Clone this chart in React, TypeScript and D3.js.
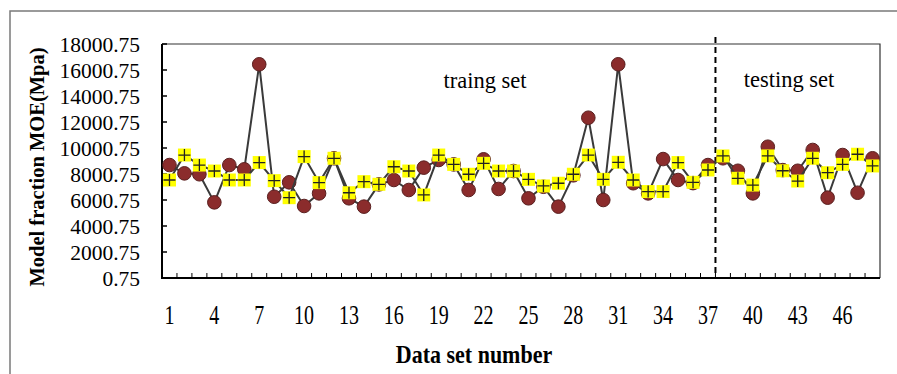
import React, { useEffect, useRef } from "react";
import * as d3 from "d3";

// data set numbers 1..48 (1-37 training, 38-48 testing)
const categories: number[] = d3.range(1, 49);
const xTickLabels = [1, 4, 7, 10, 13, 16, 19, 22, 25, 28, 31, 34, 37, 40, 43, 46];
const yTickValues = [0.75, 2000.75, 4000.75, 6000.75, 8000.75, 10000.75, 12000.75, 14000.75, 16000.75, 18000.75];

// brown circles
const seriesA = [
  8690, 8050, 7980, 5820, 8690, 8360, 16440, 6250, 7360, 5540,
  6510, 9210, 6130, 5490, 7200, 7540, 6770, 8490, 9080, 8740,
  6770, 9130, 6850, 8230, 6130, 7020, 5490, 7900, 12330, 6000,
  16440, 7290, 6510, 9150, 7540, 7300, 8690, 9210, 8250, 6510,
  10100, 8300, 8250, 9850, 6180, 9460, 6560, 9210,
];
// yellow plus squares
const seriesB = [
  7540, 9460, 8690, 8230, 7540, 7540, 8880, 7490, 6180, 9340,
  7340, 9210, 6560, 7410, 7210, 8560, 8230, 6390, 9460, 8740,
  7980, 8820, 8230, 8230, 7590, 7080, 7290, 7980, 9460, 7590,
  8900, 7540, 6650, 6650, 8880, 7360, 8310, 9390, 7670, 7150,
  9390, 8250, 7460, 9210, 8100, 8740, 9520, 8620,
];
const splitAfter = 37;

export default function App() {
  const svgRef = useRef<SVGSVGElement>(null);

  useEffect(() => {
    const left = 162, right = 880, top = 44, bottom = 278;
    const svg = d3.select(svgRef.current);
    svg.selectAll("*").remove();

    const x = d3.scaleBand<number>().domain(categories).range([left, right]);
    const y = d3.scaleLinear().domain([0.75, 18000.75]).range([bottom, top]);
    const cx = (d: number) => (x(d) as number) + x.bandwidth() / 2;

    // outer frame
    svg.append("rect")
      .attr("x", 10).attr("y", 11).attr("width", 900).attr("height", 400)
      .attr("fill", "none").attr("stroke", "#7a7a7a").attr("stroke-width", 1.5);

    // plot frame (top/right thin)
    svg.append("path")
      .attr("d", `M${left},${top}H${right}V${bottom}`)
      .attr("fill", "none").attr("stroke", "#333").attr("stroke-width", 1.2);

    const font = "'Liberation Serif', 'Times New Roman', serif";

    // y ticks inside
    svg.append("g").selectAll("line").data(yTickValues.slice(1)).join("line")
      .attr("x1", left).attr("x2", left + 5)
      .attr("y1", (d) => y(d)).attr("y2", (d) => y(d))
      .attr("stroke", "#000").attr("stroke-width", 1.5);
    svg.append("g").selectAll("text").data(yTickValues).join("text")
      .attr("x", 140).attr("y", (d) => y(d)).attr("dy", "0.35em")
      .attr("text-anchor", "end").attr("font-family", font).attr("font-size", 21.5)
      .text((d) => d.toFixed(2));

    // x ticks inside at category boundaries
    svg.append("g").selectAll("line").data(categories.slice(1)).join("line")
      .attr("x1", (d) => x(d) as number).attr("x2", (d) => x(d) as number)
      .attr("y1", bottom).attr("y2", bottom - 5)
      .attr("stroke", "#000").attr("stroke-width", 1);
    svg.append("g").selectAll("text").data(xTickLabels).join("text")
      .attr("transform", (d) => `translate(${cx(d)},324) scale(1,1.4)`)
      .attr("text-anchor", "middle").attr("font-family", font).attr("font-size", 20)
      .text((d) => d);

    // left + bottom axis lines
    svg.append("path")
      .attr("d", `M${left},${top}V${bottom}H${right}`)
      .attr("fill", "none").attr("stroke", "#000").attr("stroke-width", 2);

    // split line
    const sx = (x(splitAfter) as number) + x.bandwidth();
    svg.append("line")
      .attr("x1", sx).attr("x2", sx).attr("y1", 37).attr("y2", bottom)
      .attr("stroke", "#000").attr("stroke-width", 2).attr("stroke-dasharray", "6,4");

    const line = d3.line<number>().x((_, i) => cx(categories[i])).y((d) => y(d));

    // series A
    svg.append("path").datum(seriesA).attr("d", line)
      .attr("fill", "none").attr("stroke", "#3a3a3a").attr("stroke-width", 2);
    svg.append("g").selectAll("circle").data(seriesA).join("circle")
      .attr("cx", (_, i) => cx(categories[i])).attr("cy", (d) => y(d)).attr("r", 6.8)
      .attr("fill", "#8b2c2c").attr("stroke", "#5a2020").attr("stroke-width", 1);

    // series B
    svg.append("path").datum(seriesB).attr("d", line)
      .attr("fill", "none").attr("stroke", "#3a3a3a").attr("stroke-width", 2);
    const g = svg.append("g").selectAll("g").data(seriesB).join("g")
      .attr("transform", (d, i) => `translate(${cx(categories[i])},${y(d)})`);
    g.append("rect").attr("x", -6.5).attr("y", -6.5).attr("width", 13).attr("height", 13)
      .attr("fill", "#ffff00");
    g.append("path").attr("d", "M-6,0H6M0,-6V6").attr("stroke", "#222").attr("stroke-width", 1.3);

    // annotations
    svg.append("text").attr("x", 485).attr("y", 88).attr("text-anchor", "middle")
      .attr("font-family", font).attr("font-size", 22.5).text("traing set");
    svg.append("text").attr("x", 789).attr("y", 87).attr("text-anchor", "middle")
      .attr("font-family", font).attr("font-size", 22.5).text("testing set");

    svg.append("text")
      .attr("transform", `translate(44,167) rotate(-90)`)
      .attr("text-anchor", "middle").attr("font-family", font).attr("font-weight", "bold")
      .attr("font-size", 20.5).text("Model fraction MOE(Mpa)");
    svg.append("text")
      .attr("transform", "translate(474,363) scale(1,1.1)")
      .attr("text-anchor", "middle")
      .attr("font-family", font).attr("font-weight", "bold").attr("font-size", 22)
      .text("Data set number");
  }, []);

  return (
    <svg
      ref={svgRef}
      width={897}
      height={374}
      style={{ position: "absolute", left: 0, top: 0, background: "#fff" }}
    />
  );
}
